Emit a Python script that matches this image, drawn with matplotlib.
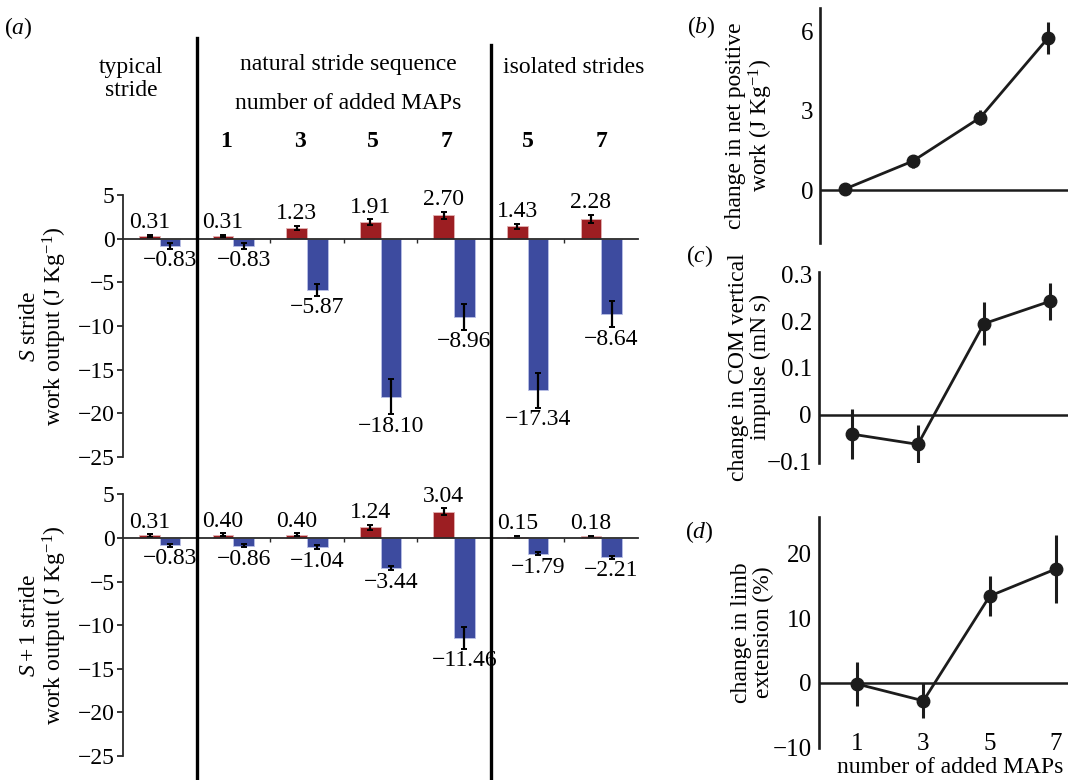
import numpy as np
import matplotlib.pyplot as plt
from matplotlib.lines import Line2D
from matplotlib.transforms import blended_transform_factory

plt.rcParams['font.family'] = ['Liberation Serif', 'DejaVu Serif']
plt.rcParams['mathtext.fontset'] = 'custom'
plt.rcParams['mathtext.rm'] = 'Liberation Serif'
plt.rcParams['mathtext.it'] = 'Liberation Serif:italic'
plt.rcParams['font.size'] = 17

# work output per stride: positive (red) and negative (blue) work
group_nums = ['1', '3', '5', '7', '5', '7']
s_pos = [0.31, 0.31, 1.23, 1.91, 2.70, 1.43, 2.28]
s_neg = [-0.83, -0.83, -5.87, -18.10, -8.96, -17.34, -8.64]
s_pos_err = [0.15, 0.15, 0.27, 0.30, 0.40, 0.30, 0.45]
s_neg_err = [0.30, 0.30, 0.70, 2.00, 1.50, 2.00, 1.50]

s1_pos = [0.31, 0.40, 0.40, 1.24, 3.04, 0.15, 0.18]
s1_neg = [-0.83, -0.86, -1.04, -3.44, -11.46, -1.79, -2.21]
s1_pos_err = [0.15, 0.15, 0.15, 0.30, 0.40, 0.10, 0.10]
s1_neg_err = [0.20, 0.20, 0.25, 0.25, 1.25, 0.20, 0.20]

# changes vs number of added MAPs
maps = [1, 3, 5, 7]
net_work = [0.05, 1.10, 2.75, 5.75]
net_work_err = [0.10, 0.25, 0.30, 0.60]
com_impulse = [-0.042, -0.064, 0.195, 0.243]
com_impulse_err = [0.053, 0.042, 0.046, 0.039]
limb_ext = [-0.2, -2.8, 13.4, 17.6]
limb_ext_err = [3.4, 2.7, 3.1, 5.3]

RED = '#9c1e22'
BLUE = '#3d4b9f'
DARK = '#1c1c1c'
W = 0.28


def fmt(v):
    return f'{v:.2f}'.replace('-', '\u2212')


def work_panel(ax, pos, neg, pos_err, neg_err, ylabel):
    x = np.arange(len(pos))
    ekw = dict(ecolor='black', elinewidth=1.6, capsize=2.5, capthick=1.4)
    ax.bar(x - W / 2, pos, W, color=RED, edgecolor='#e3b3b3', linewidth=0.6,
           yerr=pos_err, error_kw=ekw, zorder=2)
    ax.bar(x + W / 2, neg, W, color=BLUE, edgecolor='#b9c0e6', linewidth=0.6,
           yerr=neg_err, error_kw=ekw, zorder=2)
    for xi, v, e in zip(x, pos, pos_err):
        ax.annotate(fmt(v), (xi - W / 2, v + e), xytext=(0, 1),
                    textcoords='offset points', ha='center', va='bottom')
    for xi, v, e in zip(x, neg, neg_err):
        ax.annotate(fmt(v), (xi + W / 2, v - e), xytext=(0, -1),
                    textcoords='offset points', ha='center', va='top')
    ax.set_xlim(-0.5, 6.5)
    ax.set_ylim(-25, 5)
    ticks = [5, 0, -5, -10, -15, -20, -25]
    ax.set_yticks(ticks)
    ax.set_yticklabels([str(t).replace('-', '\u2212') for t in ticks])
    ax.set_xticks(np.arange(0.5, 6, 1))
    ax.set_xticklabels([])
    for s in ['top', 'right']:
        ax.spines[s].set_visible(False)
    ax.spines['bottom'].set_position(('data', 0))
    for s in ['left', 'bottom']:
        ax.spines[s].set_color('#2a2a2a')
        ax.spines[s].set_linewidth(1.3)
    ax.tick_params(axis='y', direction='out', length=4, width=1.3, pad=2,
                   color='#2a2a2a')
    ax.tick_params(axis='x', direction='out', length=3, width=1.0,
                   color='#2a2a2a')
    ax.set_ylabel(ylabel, linespacing=1.05)
    ax.yaxis.set_label_coords(-0.104, 0.5)


def map_panel(ax, y, err, xlim, ylim, yticks, yticklabels, ylabel, lab_x=-0.181):
    ax.axhline(0, color=DARK, lw=1.8, zorder=1)
    ax.errorbar(maps, y, yerr=err, color=DARK, lw=2.0, marker='o', ms=9,
                elinewidth=2.2, capsize=0, zorder=3)
    ax.set_xlim(*xlim)
    ax.set_ylim(*ylim)
    ax.set_yticks(yticks)
    ax.set_yticklabels(yticklabels, fontsize=18)
    for s in ['top', 'right', 'bottom']:
        ax.spines[s].set_visible(False)
    ax.spines['left'].set_linewidth(1.9)
    ax.spines['left'].set_color(DARK)
    ax.tick_params(axis='y', length=0, pad=5)
    ax.tick_params(axis='x', length=0)
    ax.set_xticks(maps)
    ax.set_xticklabels([])
    ax.set_ylabel(ylabel, linespacing=1.05)
    ax.yaxis.set_label_coords(lab_x, 0.5)


fig = plt.figure(figsize=(10.68, 7.80), dpi=100)

ax_s = fig.add_axes([0.1152, 0.4141, 0.4822, 0.3359])
ax_s1 = fig.add_axes([0.1152, 0.0308, 0.4822, 0.3353])
work_panel(ax_s, s_pos, s_neg, s_pos_err, s_neg_err,
           '$S$ stride\nwork output (J Kg$^{-1}$)')
work_panel(ax_s1, s1_pos, s1_neg, s1_pos_err, s1_neg_err,
           '$S+1$ stride\nwork output (J Kg$^{-1}$)')

ax_b = fig.add_axes([0.7678, 0.6885, 0.2322, 0.3013])
ax_c = fig.add_axes([0.7668, 0.4064, 0.2332, 0.2449])
ax_d = fig.add_axes([0.7668, 0.0410, 0.2332, 0.2960])
map_panel(ax_b, net_work, net_work_err, (0.25, 7.6), (-2.0, 6.9),
          [0, 3, 6], ['0', '3', '6'],
          'change in net positive\nwork (J Kg$^{-1}$)')
map_panel(ax_c, com_impulse, com_impulse_err, (0.0, 7.55), (-0.104, 0.306),
          [-0.1, 0, 0.1, 0.2, 0.3], ['\u22120.1', '0', '0.1', '0.2', '0.3'],
          'change in COM vertical\nimpulse (mN\u2009s)', lab_x=-0.194)
map_panel(ax_d, limb_ext, limb_ext_err, (-0.15, 7.36), (-10.1, 25.6),
          [-10, 0, 10, 20], ['\u221210', '0', '10', '20'],
          'change in limb\nextension (%)')
ax_d.set_xticklabels([str(m) for m in maps], fontsize=18)
ax_d.tick_params(axis='x', pad=-11)
ax_d.set_xlabel('number of added MAPs', va='bottom')
ax_d.xaxis.set_label_coords(0.526, -0.128)

# section dividers and headings above the bar panels
tr = blended_transform_factory(ax_s.transData, fig.transFigure)
for xd, top in [(0.5, 0.951), (4.5, 0.942)]:
    fig.add_artist(Line2D([xd, xd], [0, top], transform=tr, color='black',
                          lw=2.4, clip_on=False))
fig.text(0.1227, 0.899, 'typical\nstride', ha='center', va='center',
         linespacing=1.15)
fig.text(0.3258, 0.9167, 'natural stride sequence', ha='center', va='center')
fig.text(0.3258, 0.8679, 'number of added MAPs', ha='center', va='center')
fig.text(0.5375, 0.9141, 'isolated strides', ha='center', va='center')
for gx, lab in zip([0.9, 1.9, 2.9, 3.9, 5.0, 6.0], group_nums):
    fig.text(gx, 0.819, lab, transform=tr, ha='center', va='center',
             fontweight='bold')

fig.text(0.017, 0.964, '($a$)', ha='center', va='center')
fig.text(0.657, 0.965, '($b$)', ha='center', va='center')
fig.text(0.655, 0.672, '($c$)', ha='center', va='center')
fig.text(0.655, 0.318, '($d$)', ha='center', va='center')

fig.savefig('out.png', dpi=100)
